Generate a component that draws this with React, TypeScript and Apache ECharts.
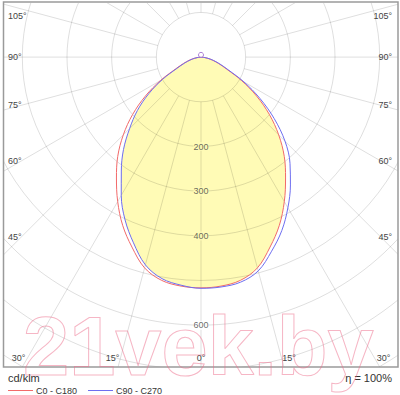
import React, { useEffect, useRef } from "react";
import * as echarts from "echarts";

// Gamma angles (degrees from nadir) of the measured intensities
const gammaDeg = [0, 5, 10, 15, 20, 25, 30, 35, 40, 45, 50, 55, 60, 65, 70, 75, 80, 85, 90];
// Luminous intensity, cd/klm
const c0 = [516, 514, 507, 488, 452, 415, 373, 330, 290, 246, 200, 152, 105, 63, 42, 27, 15, 6, 0];
const c180 = [516, 514, 507, 488, 452, 415, 373, 330, 290, 246, 200, 152, 105, 63, 42, 27, 15, 6, 0];
const c90 = [517, 516, 511, 495, 462, 428, 389, 349, 310, 266, 214, 161, 111, 67, 45, 29, 16, 6, 0];
const c270 = [517, 512, 503, 481, 442, 402, 357, 311, 270, 226, 186, 143, 99, 59, 39, 25, 14, 6, 0];

// Grid
const ringValues = [100, 200, 300, 400, 500, 600, 700, 800, 900];
const ringLabels = [200, 300, 400, 600];
const rayAngles = [0, 15, 30, 45, 60, 75, 90, 105, 120, 135, 150, 165, 180, 195, 210, 225, 240, 255, 270, 285, 300, 315, 330, 345];
const sideAngleLabels = ["105°", "90°", "75°", "60°", "45°"];
const bottomAngleLabels = ["30°", "15°", "0°", "15°", "30°"];

const seriesNames = ["C0 - C180", "C90 - C270"];
const seriesColors = ["#f26a6a", "#6e6ef0"];
const unitText = "cd/klm";
const efficiencyText = "η = 100%";

const FONT = "'Liberation Sans', Arial, sans-serif";
const GRID_COLOR = "rgba(0,0,0,0.13)";
const FILL = "#fffbb6";
const SMOOTH = 0.35;

function toXY(I: number, g: number, side: number): [number, number] {
  const r = (g * Math.PI) / 180;
  return [side * I * Math.sin(r), -I * Math.cos(r)];
}

function curve(left: number[], right: number[]): [number, number][] {
  const pts: [number, number][] = [];
  for (let i = gammaDeg.length - 1; i >= 0; i--) pts.push(toXY(left[i], gammaDeg[i], -1));
  for (let i = 1; i < gammaDeg.length; i++) pts.push(toXY(right[i], gammaDeg[i], 1));
  return pts;
}

export default function App() {
  const ref = useRef<HTMLDivElement>(null);
  useEffect(() => {
    if (!ref.current) return;
    const chart = echarts.init(ref.current, undefined, { renderer: "svg" });

    const redPts = curve(c180, c0);
    const bluePts = curve(c270, c90);
    const fillPts = curve(
      c180.map((v, i) => Math.min(v, c270[i])),
      c0.map((v, i) => Math.min(v, c90[i]))
    );

    const sideY = [16, 57, 105, 161, 236.5];
    const bottomX = [18.5, 112.5, 201, 289, 383.5];
    const graphics: any[] = [];
    const txt = (t: string, x: number, y: number, align: string, size = 9, color = "#444") => ({
      type: "text", x, y, z: 50,
      style: { text: t, fontSize: size, fontFamily: FONT, fill: color, align, verticalAlign: "middle" },
    });
    sideAngleLabels.forEach((t, i) => {
      graphics.push(txt(t, 8, sideY[i], "left"));
      graphics.push(txt(t, 392, sideY[i], "right"));
    });
    bottomAngleLabels.forEach((t, i) => graphics.push(txt(t, bottomX[i], 358, "center")));
    graphics.push({
      type: "rect", z: 60,
      shape: { x: 3.5, y: 2, width: 394.5, height: 365 },
      style: { fill: "none", stroke: "#9a9a9a", lineWidth: 1.5 },
    });
    graphics.push(txt(unitText, 8, 378, "left", 11, "#333"));
    graphics.push(txt(efficiencyText, 392, 378, "right", 11, "#333"));
    // legend
    const legendX = [8, 88];
    seriesNames.forEach((name, i) => {
      graphics.push({
        type: "line", z: 50,
        shape: { x1: legendX[i], y1: 390.5, x2: legendX[i] + 25, y2: 390.5 },
        style: { stroke: seriesColors[i], lineWidth: 1 },
      });
      graphics.push(txt(name, legendX[i] + 28, 390.5, "left", 9, "#333"));
    });
    graphics.push({
      type: "text", x: 23, y: 346, z: 100, silent: true,
      style: {
        text: "21vek.by", fontSize: 83, fontWeight: "bold", fontFamily: FONT,
        fill: "none", stroke: "rgba(238,110,140,0.5)", lineWidth: 1,
        align: "left", verticalAlign: "middle",
      },
    });

    chart.setOption({
      animation: false,
      backgroundColor: "#fff",
      grid: { left: 4, right: 2, top: 3, bottom: 28 },
      xAxis: { type: "value", min: -441, max: 441, show: false, splitLine: { show: false } },
      yAxis: { type: "value", min: -693, max: 121, show: false, splitLine: { show: false } },
      graphic: graphics,
      series: [
        {
          type: "custom", coordinateSystem: "cartesian2d", clip: true, silent: true, z: 1,
          data: [[0, 0]],
          renderItem: (_p: any, api: any) => ({
            type: "polygon",
            shape: { points: fillPts.map((p) => api.coord(p)), smooth: SMOOTH },
            style: { fill: FILL, stroke: "none" },
          }),
        },
        {
          type: "custom", coordinateSystem: "cartesian2d", clip: true, silent: true, z: 2,
          data: ringValues.map((r) => [r, 0]),
          renderItem: (_p: any, api: any) => {
            const r = api.value(0);
            const c = api.coord([0, 0]);
            const rad = api.size([r, 0])[0];
            return {
              type: "circle",
              shape: { cx: c[0], cy: c[1], r: rad },
              style: { fill: "none", stroke: GRID_COLOR, lineWidth: 1 },
            };
          },
        },
        {
          type: "custom", coordinateSystem: "cartesian2d", clip: true, silent: true, z: 2,
          data: rayAngles.map((a) => [a, 0]),
          renderItem: (_p: any, api: any) => {
            const a = api.value(0);
            const p1 = api.coord(toXY(ringValues[0], a, 1));
            const p2 = api.coord(toXY(1200, a, 1));
            return {
              type: "line",
              shape: { x1: p1[0], y1: p1[1], x2: p2[0], y2: p2[1] },
              style: { stroke: GRID_COLOR, lineWidth: 1 },
            };
          },
        },
        {
          name: seriesNames[0], type: "line", data: redPts, symbol: "none", z: 3, smooth: SMOOTH,
          lineStyle: { color: seriesColors[0], width: 1 }, itemStyle: { color: seriesColors[0] },
        },
        {
          name: seriesNames[1], type: "line", data: bluePts, symbol: "none", z: 3, smooth: SMOOTH,
          lineStyle: { color: seriesColors[1], width: 1 }, itemStyle: { color: seriesColors[1] },
        },
        {
          type: "scatter", z: 4, symbolSize: 1, silent: true,
          itemStyle: { color: "rgba(0,0,0,0)" },
          data: ringLabels.map((v) => ({
            value: [0, -v],
            label: { backgroundColor: v < 500 ? FILL : "#fff" },
          })),
          label: {
            show: true, position: "inside", fontSize: 9, fontFamily: FONT, color: "#444",
            formatter: (p: any) => String(-p.value[1]),
          },
        },
        {
          type: "scatter", z: 5, silent: true, symbol: "circle", symbolSize: 5,
          data: [[0, 5]],
          itemStyle: { color: "#fff", borderColor: "#9a62cc", borderWidth: 1 },
        },
      ],
    });
    return () => chart.dispose();
  }, []);
  return <div ref={ref} style={{ position: "fixed", left: 0, top: 0, width: 400, height: 395 }} />;
}
